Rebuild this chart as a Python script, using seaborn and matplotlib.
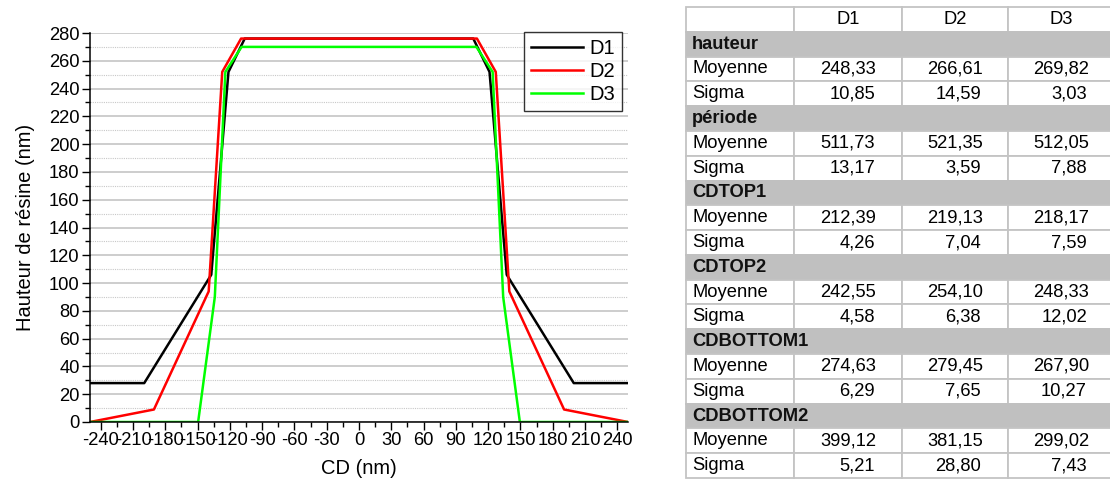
import matplotlib
matplotlib.use("Agg")

import pandas as pd
import matplotlib.pyplot as plt
import seaborn as sns
from matplotlib.patches import Rectangle
from matplotlib.ticker import MultipleLocator

plt.rcParams["font.family"] = ["Liberation Sans", "DejaVu Sans"]
plt.rcParams["axes.unicode_minus"] = False

# profile data (CD in nm, hauteur in nm)
cd_D1 = [-250, -199.6, -137.3, -121.3, -106.2, 106.2, 121.3, 137.3, 199.6, 250]
h_D1 = [28, 28, 106, 252, 276, 276, 252, 106, 28, 28]
cd_D2 = [-250, -190.6, -139.7, -127.1, -109.6, 109.6, 127.1, 139.7, 190.6, 250]
h_D2 = [0, 9, 94, 252, 276, 276, 252, 94, 9, 0]
cd_D3 = [-250, -149.5, -134.0, -124.2, -109.1, 109.1, 124.2, 134.0, 149.5, 250]
h_D3 = [0, 0, 90, 252, 270, 270, 252, 90, 0, 0]

series = ["D1", "D2", "D3"]
colors = ["#000000", "#ff0000", "#00ff00"]

# table data
sections = ["hauteur", "période", "CDTOP1", "CDTOP2", "CDBOTTOM1", "CDBOTTOM2"]
moy_D1 = [248.33, 511.73, 212.39, 242.55, 274.63, 399.12]
moy_D2 = [266.61, 521.35, 219.13, 254.10, 279.45, 381.15]
moy_D3 = [269.82, 512.05, 218.17, 248.33, 267.90, 299.02]
sig_D1 = [10.85, 13.17, 4.26, 4.58, 6.29, 5.21]
sig_D2 = [14.59, 3.59, 7.04, 6.38, 7.65, 28.80]
sig_D3 = [3.03, 7.88, 7.59, 12.02, 10.27, 7.43]

df = pd.concat([
    pd.DataFrame({"CD": cd_D1, "h": h_D1, "serie": "D1"}),
    pd.DataFrame({"CD": cd_D2, "h": h_D2, "serie": "D2"}),
    pd.DataFrame({"CD": cd_D3, "h": h_D3, "serie": "D3"}),
], ignore_index=True)

fig = plt.figure(figsize=(11.1, 4.83), dpi=100)
ax = fig.add_axes([90 / 1110, 1 - 422 / 483, 538 / 1110, 389 / 483])

sns.lineplot(data=df, x="CD", y="h", hue="serie", palette=dict(zip(series, colors)),
             estimator=None, sort=False, linewidth=1.8, ax=ax)

ax.set_xlim(-250, 250)
ax.set_ylim(0, 280)
ax.xaxis.set_major_locator(MultipleLocator(30))
ax.xaxis.set_minor_locator(MultipleLocator(15))
ax.yaxis.set_major_locator(MultipleLocator(20))
ax.yaxis.set_minor_locator(MultipleLocator(10))
ax.set_xticks(range(-240, 241, 30))

ax.grid(axis="y", which="major", color="#c0c0c0", linewidth=1.1, linestyle="-")
ax.grid(axis="y", which="minor", color="#c8c8c8", linewidth=0.8, linestyle=(0, (1, 1)))
ax.set_axisbelow(True)
gl = ax.yaxis.get_gridlines()
gl[-1].set_visible(False)

for s in ["top", "right"]:
    ax.spines[s].set_visible(False)
for s in ["left", "bottom"]:
    ax.spines[s].set_linewidth(1.1)
    ax.spines[s].set_color("black")

ax.tick_params(which="major", length=5.5, width=1.0, labelsize=13.2, pad=2)
ax.tick_params(which="minor", length=3.5, width=1.0)

ax.set_xlabel("CD (nm)", fontsize=14.5, labelpad=7)
ax.set_ylabel("Hauteur de résine (nm)", fontsize=14.5, labelpad=10)

leg = ax.legend(loc="upper right", bbox_to_anchor=(0.989, 1.003), borderaxespad=0,
                fontsize=14.5, frameon=True, fancybox=False, edgecolor="black",
                handlelength=2.6, handletextpad=0.3, labelspacing=0.2,
                borderpad=0.35, title=None)
leg.get_frame().set_linewidth(1.0)
for line in leg.get_lines():
    line.set_linewidth(1.8)

# table
tab = fig.add_axes([686 / 1110, 1 - 478 / 483, 424 / 1110, 471 / 483])
tab.set_xlim(0, 424)
tab.set_ylim(19, 0)
tab.axis("off")

col_edges = [0, 108, 216, 322, 428]
grid_col = "#c4c4c4"
fs = 13.2


def fmt(v):
    return f"{v:.2f}".replace(".", ",")


def cell(r, c):
    tab.add_patch(Rectangle((col_edges[c], r), col_edges[c + 1] - col_edges[c], 1,
                            facecolor="white", edgecolor=grid_col, linewidth=1.3, clip_on=False))


# header
for c in range(4):
    cell(0, c)
for c, name in enumerate(series):
    tab.text((col_edges[c + 1] + col_edges[c + 2]) / 2, 0.5, name, ha="center", va="center", fontsize=fs)

moys = [moy_D1, moy_D2, moy_D3]
sigs = [sig_D1, sig_D2, sig_D3]
for i, sec in enumerate(sections):
    r = 1 + 3 * i
    tab.add_patch(Rectangle((0, r), col_edges[-1], 1, facecolor="#c0c0c0",
                            edgecolor="#c0c0c0", linewidth=1.3, clip_on=False))
    tab.text(6, r + 0.5, sec, ha="left", va="center", fontsize=fs, fontweight="bold", color="#111111")
    for k, lab in enumerate(["Moyenne", "Sigma"]):
        rr = r + 1 + k
        for c in range(4):
            cell(rr, c)
        tab.text(6, rr + 0.5, lab, ha="left", va="center", fontsize=fs)
        for c in range(3):
            v = moys[c][i] if k == 0 else sigs[c][i]
            if k == 0:
                tab.text((col_edges[c + 1] + col_edges[c + 2]) / 2, rr + 0.5, fmt(v),
                         ha="center", va="center", fontsize=fs)
            else:
                tab.text(col_edges[c + 2] - 27, rr + 0.5, fmt(v),
                         ha="right", va="center", fontsize=fs)

fig.savefig("out.png", dpi=100)
